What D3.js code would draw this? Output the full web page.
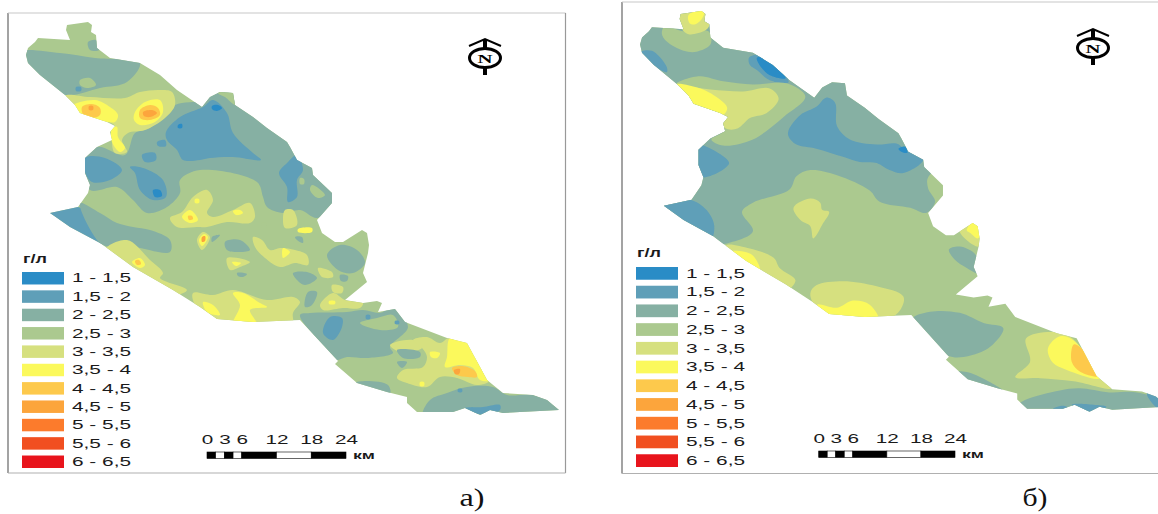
<!DOCTYPE html>
<html>
<head>
<meta charset="utf-8">
<script src="https://cdn.jsdelivr.net/npm/d3@7"></script>
<style>
  html, body { margin: 0; background: #fff; overflow: hidden; }
  text { font-family: "Liberation Sans", sans-serif; fill: #1a1a1a; }
</style>
</head>
<body>
<div id="chart"></div>
<script>
// salinity classes (g/l)
const bandLabels = ["1 - 1,5", "1,5 - 2", "2 - 2,5", "2,5 - 3", "3 - 3,5", "3,5 - 4", "4 - 4,5", "4,5 - 5", "5 - 5,5", "5,5 - 6", "6 - 6,5"]
const bandColors = ["#2a8cc6", "#5f9fb8", "#86b0a3", "#abc98f", "#d6e07f", "#fbf95c", "#fdc94c", "#fca53c", "#fc7b2c", "#f14f20", "#e8141c"]

// scale bar
const scaleBreaksKm = [0, 1.5, 3, 4.5, 6, 12, 18, 24]
const scaleTicksKm = [0, 3, 6, 12, 18, 24]

// area boundary, map units
const regionOutline = [[67,25],[88,22],[92,25],[91,32],[96,35],[97,48],[110,58],[140,63],[160,75],[177,90],[202,107],[210,97],[220,92],[233,93],[235,105],[253,117],[267,128],[287,142],[290,147],[297,160],[312,168],[313,175],[332,193],[332,203],[317,220],[322,233],[335,242],[343,242],[362,230],[367,233],[369,245],[368,253],[363,273],[367,282],[345,300],[363,303],[377,301],[382,303],[378,312],[395,309],[405,322],[447,338],[467,343],[487,380],[503,393],[533,395],[547,400],[559,410],[520,412],[503,413],[490,410],[480,415],[465,408],[453,412],[417,412],[407,403],[407,397],[387,392],[357,383],[335,364],[338,361],[300,320],[253,322],[217,319],[200,307],[173,290],[133,267],[107,248],[100,243],[70,227],[50,213],[78,207],[88,193],[90,185],[85,173],[85,158],[97,147],[112,140],[110,132],[115,126],[107,122],[80,113],[75,105],[65,95],[40,75],[28,63],[26,55],[28,48],[35,42],[38,38],[70,40],[66,30]]

// contour patches of the first map, painted in this order: [class index, points]
const zonesA = [
  [2, [[97,147],[125,155],[135,133],[150,128],[175,105],[202,100],[210,90],[220,85],[233,90],[253,110],[295,140],[305,160],[320,175],[340,193],[340,205],[317,218],[300,210],[283,213],[267,207],[263,197],[257,182],[200,170],[180,180],[180,193],[167,207],[147,213],[133,200],[117,187],[90,190],[80,165]]],
  [3, [[218,93],[225,85],[240,88],[236,105],[225,97]]],
  [2, [[20,52],[60,53],[95,58],[140,63],[127,82],[100,88],[65,95],[40,80],[20,65]]],
  [3, [[80,80],[90,78],[96,85],[87,88],[80,85]]],
  [1, [[76,87],[81,87],[81,91],[76,91]]],
  [2, [[88,42],[96,40],[99,50],[90,50]]],
  [4, [[65,96],[90,97],[125,98],[140,92],[160,90],[172,92],[175,105],[165,118],[145,130],[128,133],[122,140],[127,152],[115,153],[112,142],[115,126],[100,120],[72,113]]],
  [5, [[72,106],[95,100],[110,107],[118,115],[115,122],[108,122],[90,118],[80,114]]],
  [5, [[112,128],[117,127],[118,137],[125,148],[120,152],[112,142]]],
  [5, [[135,112],[145,102],[160,100],[163,112],[155,122],[140,125],[134,120]]],
  [6, [[82,107],[92,104],[100,108],[100,115],[92,118],[84,116]]],
  [7, [[89,106],[93,106],[93,110],[89,110]]],
  [6, [[140,110],[150,105],[158,108],[160,115],[150,120],[140,118]]],
  [7, [[143,112],[152,110],[157,113],[150,117],[144,116]]],
  [1, [[166,132],[180,117],[203,107],[213,100],[227,113],[233,133],[253,153],[261,160],[233,157],[210,158],[200,160],[183,160],[177,150],[167,140]]],
  [0, [[212,106],[218,105],[222,108],[217,111],[212,109]]],
  [0, [[178,125],[182,124],[182,128],[178,128]]],
  [1, [[85,158],[105,158],[122,170],[110,180],[92,182],[85,172]]],
  [1, [[130,167],[143,168],[163,180],[166,197],[153,200],[140,190],[135,173]]],
  [0, [[153,190],[160,190],[162,196],[155,197]]],
  [1, [[142,155],[155,153],[156,160],[145,162]]],
  [1, [[157,142],[165,140],[166,146],[158,146]]],
  [1, [[297,155],[303,170],[297,180],[297,197],[288,202],[287,187],[279,173],[287,163]]],
  [3, [[300,178],[304,179],[304,184],[300,184]]],
  [3, [[312,185],[325,195],[318,198],[310,190]]],
  [1, [[45,212],[78,207],[88,212],[105,225],[107,235],[97,246]]],
  [2, [[80,203],[100,213],[117,223],[133,227],[150,230],[170,240],[170,252],[133,247],[117,248],[100,243]]],
  [4, [[170,218],[182,212],[193,197],[207,190],[213,200],[207,213],[213,217],[233,210],[250,203],[255,217],[250,223],[227,222],[207,227],[197,227],[177,227]]],
  [5, [[182,217],[190,210],[198,220],[190,223]]],
  [6, [[188,216],[192,216],[193,219],[189,220]]],
  [5, [[195,199],[199,199],[199,203],[195,203]]],
  [5, [[233,211],[240,210],[243,213],[236,215]]],
  [4, [[197,240],[203,232],[210,237],[202,250]]],
  [5, [[199,240],[204,234],[208,237],[202,246]]],
  [7, [[202,237],[205,236],[205,241],[202,242]]],
  [2, [[225,242],[240,240],[250,250],[240,252],[227,250]]],
  [2, [[212,237],[220,235],[212,242]]],
  [4, [[253,237],[262,240],[270,250],[280,248],[295,250],[307,255],[308,265],[295,263],[280,267],[265,258],[255,247]]],
  [5, [[283,248],[290,252],[283,258]]],
  [4, [[285,210],[293,210],[297,225],[285,228],[283,218]]],
  [5, [[298,229],[312,228],[312,232],[298,232]]],
  [2, [[295,237],[302,237],[303,243],[297,240]]],
  [3, [[262,223],[266,223],[266,228],[262,228]]],
  [2, [[327,255],[340,245],[357,250],[365,263],[353,273],[338,270]]],
  [4, [[318,268],[332,272],[333,277],[322,277]]],
  [2, [[293,273],[307,272],[317,278],[305,285],[297,280]]],
  [2, [[340,275],[348,276],[347,281],[341,281]]],
  [4, [[332,285],[343,287],[342,293],[333,292]]],
  [2, [[308,292],[317,292],[312,305],[305,307]]],
  [4, [[320,305],[333,293],[345,300],[363,303],[360,308],[343,308],[323,310]]],
  [5, [[329,301],[335,301],[335,304],[329,304]]],
  [4, [[193,293],[213,295],[233,290],[267,300],[293,297],[300,302],[293,313],[292,325],[217,325],[195,305]]],
  [5, [[203,302],[213,305],[220,315],[207,312]]],
  [5, [[233,293],[243,293],[260,303],[267,307],[250,310],[257,325],[233,325],[240,305]]],
  [4, [[105,250],[127,240],[150,260],[163,273],[160,278],[187,290],[173,295],[133,272]]],
  [5, [[132,262],[140,258],[145,265],[140,268]]],
  [6, [[135,261],[139,260],[141,264],[137,265]]],
  [4, [[227,258],[250,262],[240,267],[230,270]]],
  [5, [[232,262],[241,263],[236,266]]],
  [2, [[237,273],[247,274],[243,277],[238,276]]],
  [2, [[300,315],[310,313],[347,312],[363,310],[380,313],[393,308],[408,327],[390,347],[393,353],[367,358],[347,357],[335,360],[322,345]]],
  [3, [[360,323],[377,318],[393,315],[398,327],[380,330]]],
  [1, [[323,333],[330,317],[342,318],[342,327],[333,340]]],
  [1, [[366,315],[370,315],[370,319],[366,319]]],
  [1, [[395,321],[399,321],[399,324],[395,324]]],
  [4, [[390,345],[413,340],[422,348],[400,352]]],
  [4, [[413,340],[427,337],[440,343],[450,338],[490,380],[477,385],[457,378],[440,377],[427,387],[407,383],[397,378],[403,370],[423,367],[427,357],[422,348]]],
  [5, [[450,338],[467,343],[490,380],[480,380],[473,368],[460,365],[445,367],[447,357]]],
  [5, [[430,352],[440,353],[437,358],[431,357]]],
  [6, [[452,368],[462,366],[475,371],[477,377],[468,377],[457,375]]],
  [7, [[454,370],[460,369],[459,374],[455,374]]],
  [2, [[397,350],[420,352],[420,357],[403,358]]],
  [2, [[397,362],[407,362],[402,368]]],
  [5, [[420,382],[424,382],[424,386],[420,386]]],
  [2, [[430,400],[447,393],[467,387],[493,387],[507,395],[533,395],[565,410],[497,418],[467,412],[423,415]]],
  [1, [[465,408],[483,407],[500,405],[500,410],[483,415]]],
  [1, [[458,389],[462,389],[462,392],[458,392]]],
  [2, [[355,383],[367,381],[388,385],[390,394]]]
]

// contour patches of the second map
const zonesB = [
  [2, [[-10,-10],[400,-10],[400,160],[340,170],[317,185],[317,196],[324,209],[315,220],[299,215],[268,209],[258,198],[225,183],[198,178],[184,184],[177,197],[140,210],[129,219],[140,238],[110,251],[46,260],[-10,260]]],
  [3, [[48,44],[51,37],[70,42],[92,41],[97,44],[97,55],[83,62],[70,61],[53,52]]],
  [4, [[60,15],[95,15],[96,36],[92,41],[76,45],[70,42],[66,34]]],
  [5, [[75,26],[91,20],[89,29],[82,35],[76,34]]],
  [1, [[25,63],[38,61],[53,77],[53,82],[39,75]]],
  [1, [[136,68],[145,65],[164,75],[176,92],[157,90],[144,80],[137,75]]],
  [0, [[144,68],[154,67],[166,78],[173,88],[157,85],[149,78]]],
  [3, [[60,96],[85,86],[110,91],[140,94],[174,93],[193,106],[171,126],[140,148],[110,154],[98,148],[110,140],[105,125],[85,112]]],
  [4, [[60,96],[97,99],[130,101],[157,98],[166,108],[154,122],[137,127],[125,137],[115,138],[108,133],[110,125],[90,115]]],
  [5, [[62,94],[87,98],[107,109],[114,117],[110,124],[93,122],[80,116],[71,106]]],
  [1, [[176,139],[188,124],[204,116],[214,107],[223,112],[225,135],[238,148],[265,153],[285,152],[294,158],[312,168],[292,181],[278,178],[265,171],[248,170],[231,165],[204,157],[184,153],[176,145]]],
  [0, [[287,157],[294,155],[296,161],[290,160]]],
  [1, [[80,152],[116,171],[88,185],[78,168]]],
  [1, [[45,213],[76,207],[93,217],[101,233],[96,248]]],
  [4, [[181,215],[198,206],[208,210],[210,217],[217,219],[211,230],[201,245],[198,233],[188,227]]],
  [4, [[113,252],[137,255],[161,264],[167,274],[183,286],[174,296],[154,290],[130,275]]],
  [5, [[118,258],[139,261],[147,276],[128,268]]],
  [4, [[198,299],[204,291],[231,287],[265,292],[292,302],[289,315],[275,325],[225,330],[205,315]]],
  [5, [[205,310],[225,313],[241,306],[258,310],[267,326],[225,332],[212,320]]],
  [4, [[349,238],[361,228],[372,236],[368,253]]],
  [5, [[356,237],[363,229],[372,238],[367,245],[360,240]]],
  [2, [[338,256],[349,253],[365,261],[370,280],[356,274],[344,266]]],
  [2, [[300,325],[319,317],[349,318],[373,328],[393,333],[380,351],[359,360],[337,360]]],
  [2, [[345,376],[356,376],[376,384],[395,396],[369,392]]],
  [4, [[416,343],[447,337],[464,344],[486,377],[502,392],[464,385],[430,382],[405,381],[420,366]]],
  [5, [[438,353],[450,341],[464,345],[490,382],[457,374],[443,367]]],
  [6, [[464,349],[471,352],[490,380],[471,376],[462,366]]],
  [2, [[406,410],[416,403],[450,394],[470,392],[500,396],[528,396],[552,405],[552,418],[511,418],[484,415],[460,412],[443,415],[410,416]]],
  [1, [[462,408],[484,408],[497,410],[484,417],[470,414]]],
  [1, [[443,412],[454,409],[459,412],[450,415]]],
  [1, [[538,396],[565,395],[565,418],[549,412]]]
]

// one entry per panel
const panels = [
  { name: "а)", zones: zonesA, xRange: [0, 600], yRange: [0, 480],
    frame: { left: 8, top: 13, right: 565.5, bottom: 473 },
    north: [485, 58], legendX: 22, legendY: [272, 468], labelX: 72, unitY: 263,
    barX: [207, 346], barY: 452, kmX: 353, captionX: 472 },
  { name: "б)", zones: zonesB, xRange: [614.3, 1208.3], yRange: [-11.5, 478.1],
    frame: { left: 622, top: 2, right: 1200, bottom: 473.5 },
    north: [1093, 48], legendX: 636, legendY: [267, 467], labelX: 686, unitY: 257,
    barX: [818.7, 955], barY: 451, kmX: 962, captionX: 1035 }
]

const svg = d3.select("#chart").append("svg")
    .attr("width", 1158)
    .attr("height", 514)

// the reference is a slightly soft scan
svg.append("defs").append("filter")
    .attr("id", "soft")
    .append("feGaussianBlur")
    .attr("stdDeviation", 0.45)

panels.forEach(function(panel, i) {
    drawPanel(panel, i)
})

function drawPanel(panel, index) {
    const g = svg.append("g")

    const x = d3.scaleLinear().domain([0, 600]).range(panel.xRange)
    const y = d3.scaleLinear().domain([0, 480]).range(panel.yRange)

    const project = function(p) { return [x(p[0]), y(p[1])] }
    const smooth = d3.line().curve(d3.curveCatmullRomClosed.alpha(0.5))
    const sharp = d3.line().curve(d3.curveLinearClosed)
    const outlinePath = sharp(regionOutline.map(project))

    // frame, each side has its own grey in the scan
    const f = panel.frame
    const sides = [
        [f.left, f.top, f.left, f.bottom, "#666"],
        [f.left, f.top, f.right, f.top, "#c8c8c8"],
        [f.right, f.top, f.right, f.bottom, "#999"],
        [f.left, f.bottom, f.right, f.bottom, "#b0b0b0"]
    ]
    g.selectAll("line.side")
        .data(sides)
        .enter()
        .append("line")
            .attr("class", "side")
            .attr("x1", function(d) { return d[0] })
            .attr("y1", function(d) { return d[1] })
            .attr("x2", function(d) { return d[2] })
            .attr("y2", function(d) { return d[3] })
            .attr("stroke", function(d) { return d[4] })
            .attr("stroke-width", 1.2)

    // map: the region in the 2,5 - 3 colour, patches clipped to it
    const clipId = "region" + index
    svg.select("defs").append("clipPath")
        .attr("id", clipId)
        .append("path")
        .attr("d", outlinePath)

    const map = g.append("g").attr("filter", "url(#soft)")
    map.append("path")
        .attr("d", outlinePath)
        .attr("fill", bandColors[3])
    map.append("g")
        .attr("clip-path", "url(#" + clipId + ")")
        .selectAll("path")
        .data(panel.zones)
        .enter()
        .append("path")
            .attr("d", function(d) { return smooth(d[1].map(project)) })
            .attr("fill", function(d) { return bandColors[d[0]] })

    drawLegend(g, panel)
    drawScaleBar(g, panel)
    drawNorth(g, panel.north)

    // caption under the panel
    g.append("text")
        .attr("x", panel.captionX)
        .attr("y", 506)
        .attr("text-anchor", "middle")
        .attr("textLength", 25)
        .attr("lengthAdjust", "spacingAndGlyphs")
        .style("font-family", "'Liberation Serif', serif")
        .style("font-size", "25px")
        .style("fill", "#111")
        .text(panel.name)
}

function drawLegend(g, panel) {
    const band = d3.scaleBand()
        .domain(bandLabels)
        .range(panel.legendY)
        .paddingInner(0.32)

    g.append("text")
        .attr("x", panel.legendX + 1)
        .attr("y", panel.unitY)
        .attr("textLength", 24)
        .attr("lengthAdjust", "spacingAndGlyphs")
        .style("font-size", "12px")
        .style("font-weight", "bold")
        .text("г/л")

    const rows = g.selectAll("g.row")
        .data(bandLabels)
        .enter()
        .append("g")
            .attr("class", "row")
            .attr("transform", function(d) { return "translate(0," + band(d) + ")" })

    rows.append("rect")
        .attr("x", panel.legendX)
        .attr("width", 42)
        .attr("height", band.bandwidth())
        .attr("fill", function(d, i) { return bandColors[i] })

    rows.append("text")
        .attr("x", panel.labelX)
        .attr("y", band.bandwidth() - 2)
        .attr("textLength", 59)
        .attr("lengthAdjust", "spacingAndGlyphs")
        .style("font-size", "12.5px")
        .text(function(d) { return d })
}

function drawScaleBar(g, panel) {
    const km = d3.scaleLinear().domain([0, 24]).range(panel.barX)
    const segments = d3.pairs(scaleBreaksKm)

    g.selectAll("rect.seg")
        .data(segments)
        .enter()
        .append("rect")
            .attr("class", "seg")
            .attr("x", function(d) { return km(d[0]) })
            .attr("y", panel.barY)
            .attr("width", function(d) { return km(d[1]) - km(d[0]) })
            .attr("height", 6.5)
            .attr("fill", function(d, i) { return i % 2 ? "#fff" : "#000" })
            .attr("stroke", "#000")
            .attr("stroke-width", 0.6)

    const axis = g.append("g")
        .attr("transform", "translate(0," + (panel.barY - 6) + ")")
        .call(d3.axisTop(km).tickValues(scaleTicksKm).tickSize(0).tickPadding(2))
    axis.select(".domain").remove()
    axis.selectAll("text")
        .attr("textLength", function(d) { return String(d).length * 11.5 })
        .attr("lengthAdjust", "spacingAndGlyphs")
        .style("font-family", "'Liberation Sans', sans-serif")
        .style("font-size", "12.5px")
        .style("fill", "#1a1a1a")

    g.append("text")
        .attr("x", panel.kmX)
        .attr("y", panel.barY + 6.5)
        .attr("textLength", 22)
        .attr("lengthAdjust", "spacingAndGlyphs")
        .style("font-size", "10.5px")
        .style("font-weight", "bold")
        .text("км")
}

function drawNorth(g, pos) {
    const n = g.append("g").attr("transform", "translate(" + pos[0] + "," + pos[1] + ")")
    n.append("path")
        .attr("d", "M-16,-12L0,-19L16,-12")
        .attr("fill", "none")
        .attr("stroke", "#000")
        .attr("stroke-width", 2)
    n.append("path")
        .attr("d", "M0,-19V-10M0,10V17")
        .attr("stroke", "#000")
        .attr("stroke-width", 4)
    n.append("ellipse")
        .attr("rx", 15.5)
        .attr("ry", 9.5)
        .attr("fill", "#fff")
        .attr("stroke", "#000")
        .attr("stroke-width", 3)
    n.append("text")
        .attr("y", 4.5)
        .attr("text-anchor", "middle")
        .attr("textLength", 15)
        .attr("lengthAdjust", "spacingAndGlyphs")
        .style("font-family", "'Liberation Serif', serif")
        .style("font-weight", "bold")
        .style("font-size", "13px")
        .style("fill", "#000")
        .text("N")
}
</script>
</body>
</html>
